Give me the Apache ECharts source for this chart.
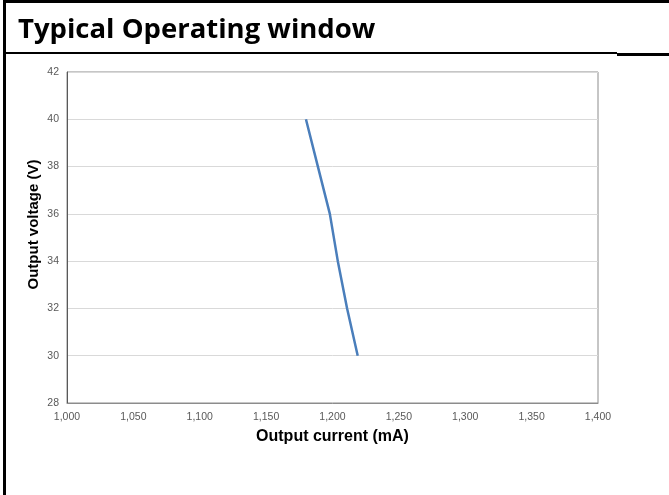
<!DOCTYPE html>
<html>
<head>
<meta charset="utf-8">
<script src="https://cdn.jsdelivr.net/npm/echarts@6/dist/echarts.min.js"></script>
<style>html,body{margin:0;padding:0;background:#fff;}#c{width:669px;height:495px;}</style>
</head>
<body>
<div id="c"></div>
<script>
const title = 'Typical Operating window';
const xName = 'Output current (mA)';
const yName = 'Output voltage (V)';
const currentMA = [1180, 1189, 1198, 1204, 1211, 1219];
const voltageV = [40, 38, 36, 34, 32, 30];
const xMin = 1000, xMax = 1400, xStep = 50;
const yMin = 28, yMax = 42, yStep = 2;

const chart = echarts.init(document.getElementById('c'));
chart.setOption({
  animation: false,
  backgroundColor: '#fff',
  title: {
    text: title, left: 13, top: 11,
    textStyle: { fontFamily: 'Open Sans', fontWeight: 'bold', fontSize: 27.5, color: '#000' }
  },
  graphic: [
    { type: 'rect', shape: { x: 3, y: 0, width: 3, height: 495 }, style: { fill: '#000' } },
    { type: 'rect', shape: { x: 3, y: 0, width: 666, height: 3 }, style: { fill: '#000' } },
    { type: 'rect', shape: { x: 6, y: 52, width: 611, height: 2 }, style: { fill: '#000' } },
    { type: 'rect', shape: { x: 617, y: 53, width: 52, height: 3 }, style: { fill: '#000' } }
  ],
  grid: { left: 67, top: 72, right: 71, bottom: 92, show: true, borderColor: '#8c8c8c', borderWidth: 1 },
  xAxis: {
    type: 'value', min: xMin, max: xMax, interval: xStep,
    name: xName, nameLocation: 'middle', nameGap: 26, nameMoveOverlap: false,
    nameTextStyle: { fontFamily: 'Liberation Sans', fontWeight: 'bold', fontSize: 16, color: '#000' },
    axisLine: { show: true, lineStyle: { color: '#8c8c8c' } },
    axisTick: { show: false },
    splitLine: { show: false },
    axisLabel: { fontFamily: 'Liberation Sans', fontSize: 10.5, color: '#595959', margin: 9,
      formatter: v => v.toLocaleString('en-US') }
  },
  yAxis: {
    type: 'value', min: yMin, max: yMax, interval: yStep,
    name: yName, nameLocation: 'middle', nameGap: 26, nameMoveOverlap: false,
    nameTextStyle: { fontFamily: 'Liberation Sans', fontWeight: 'bold', fontSize: 15, color: '#000', padding: [0, 0, 0, 26] },
    axisLine: { show: true, lineStyle: { color: '#595959' } },
    axisTick: { show: false },
    splitLine: { show: true, lineStyle: { color: '#d9d9d9' } },
    axisLabel: { fontFamily: 'Liberation Sans', fontSize: 10.5, color: '#595959', margin: 8 }
  },
  series: [{
    type: 'line',
    data: currentMA.map((c, i) => [c, voltageV[i]]),
    showSymbol: false,
    lineStyle: { color: '#4a7ebb', width: 2.5 },
    itemStyle: { color: '#4a7ebb' }
  }]
});
</script>
</body>
</html>
